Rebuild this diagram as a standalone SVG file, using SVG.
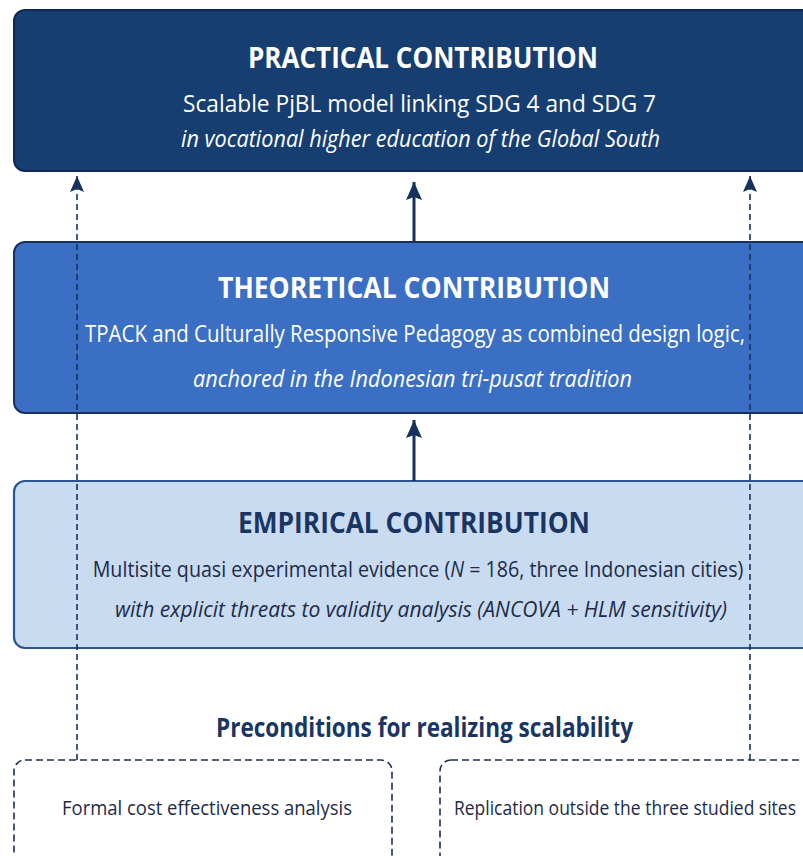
<svg xmlns="http://www.w3.org/2000/svg" width="803" height="856" viewBox="0 0 803 856">
  <defs>
    <!-- arrowheads point along +x so orient="auto" turns them along the line -->
    <marker id="head" viewBox="0 0 16 14" refX="16" refY="7" markerWidth="16" markerHeight="14" markerUnits="userSpaceOnUse" orient="auto">
      <path d="M0,0 L16,7 L0,14 L3,7 Z" fill="#15315c"/>
    </marker>
    <marker id="headSolid" viewBox="0 0 18 16" refX="18" refY="8" markerWidth="18" markerHeight="16" markerUnits="userSpaceOnUse" orient="auto">
      <path d="M0,0 L18,8 L0,16 L3,8 Z" fill="#15315c"/>
    </marker>
  </defs>
  <style>
    .title { font-family: "Open Sans", "Noto Sans", sans-serif; font-weight: 700; text-anchor: middle; }
    .body { font-family: "Open Sans", "Noto Sans", sans-serif; text-anchor: middle; }
    .it { font-style: italic; }
    .light { fill: #ffffff; }
    .dark { fill: #1c2b47; }
    .navy { fill: #1b3563; }
    .dash { fill: none; stroke: #15315c; stroke-width: 1.6; stroke-dasharray: 6 4; }
    .solid { fill: none; stroke: #15315c; stroke-width: 3; }
    .pre { fill: #ffffff; stroke: #1c2f55; stroke-width: 1.6; stroke-dasharray: 7 4; }
  </style>

  <rect width="803" height="856" fill="#ffffff"/>

  <!-- practical tier -->
  <g id="practical">
    <rect x="14" y="10" width="810" height="161" rx="11" fill="#173e70" stroke="#0e2a52" stroke-width="2"/>
    <text class="title light" x="423" y="68" font-size="28" textLength="350" lengthAdjust="spacingAndGlyphs">PRACTICAL CONTRIBUTION</text>
    <text class="body light" x="419.5" y="112" font-size="23" textLength="473" lengthAdjust="spacingAndGlyphs">Scalable PjBL model linking SDG 4 and SDG 7</text>
    <text class="body it light" x="420.5" y="147" font-size="23" textLength="479" lengthAdjust="spacingAndGlyphs">in vocational higher education of the Global South</text>
  </g>

  <!-- theoretical tier -->
  <g id="theoretical">
    <rect x="14" y="242" width="810" height="171" rx="11" fill="#3a6fc3" stroke="#15315c" stroke-width="2"/>
    <text class="title light" x="414" y="298" font-size="28" textLength="392" lengthAdjust="spacingAndGlyphs">THEORETICAL CONTRIBUTION</text>
    <text class="body light" x="415" y="342" font-size="23" textLength="660" lengthAdjust="spacingAndGlyphs">TPACK and Culturally Responsive Pedagogy as combined design logic,</text>
    <text class="body it light" x="412.5" y="387" font-size="23" textLength="439" lengthAdjust="spacingAndGlyphs">anchored in the Indonesian tri-pusat tradition</text>
  </g>

  <!-- empirical tier -->
  <g id="empirical">
    <rect x="14" y="481" width="810" height="167" rx="11" fill="#c9dbf1" stroke="#2a5590" stroke-width="2.2"/>
    <text class="title navy" x="414" y="533" font-size="28" textLength="352" lengthAdjust="spacingAndGlyphs">EMPIRICAL CONTRIBUTION</text>
    <!-- condensed horizontally so the line fits between the dashed guides -->
    <text class="body dark" transform="translate(418 577) scale(0.874 1)" x="0" y="0" font-size="22.5">Multisite quasi experimental evidence (<tspan class="it">N</tspan> = 186, three Indonesian cities)</text>
    <text class="body it dark" x="421" y="617" font-size="22.5" textLength="612" lengthAdjust="spacingAndGlyphs">with explicit threats to validity analysis (ANCOVA + HLM sensitivity)</text>
  </g>

  <!-- preconditions -->
  <g id="preconditions-title">
    <text class="title navy" x="424.5" y="737" font-size="26" textLength="417" lengthAdjust="spacingAndGlyphs">Preconditions for realizing scalability</text>
  </g>
  <g id="cost-analysis">
    <rect class="pre" x="14" y="760" width="378" height="110" rx="11"/>
    <text class="body dark" x="207" y="815" font-size="20.5" textLength="290" lengthAdjust="spacingAndGlyphs">Formal cost effectiveness analysis</text>
  </g>
  <g id="replication">
    <rect class="pre" x="440" y="760" width="420" height="110" rx="11"/>
    <text class="body dark" x="625" y="815" font-size="20.5" textLength="342" lengthAdjust="spacingAndGlyphs">Replication outside the three studied sites</text>
  </g>

  <!-- connectors -->
  <g id="connectors">
    <line class="solid" x1="414" y1="242" x2="414" y2="182" marker-end="url(#headSolid)"/>
    <line class="solid" x1="414" y1="481" x2="414" y2="420" marker-end="url(#headSolid)"/>
    <line class="dash" x1="77" y1="760" x2="77" y2="176" marker-end="url(#head)"/>
    <line class="dash" x1="750" y1="760" x2="750" y2="176" marker-end="url(#head)"/>
  </g>
</svg>
